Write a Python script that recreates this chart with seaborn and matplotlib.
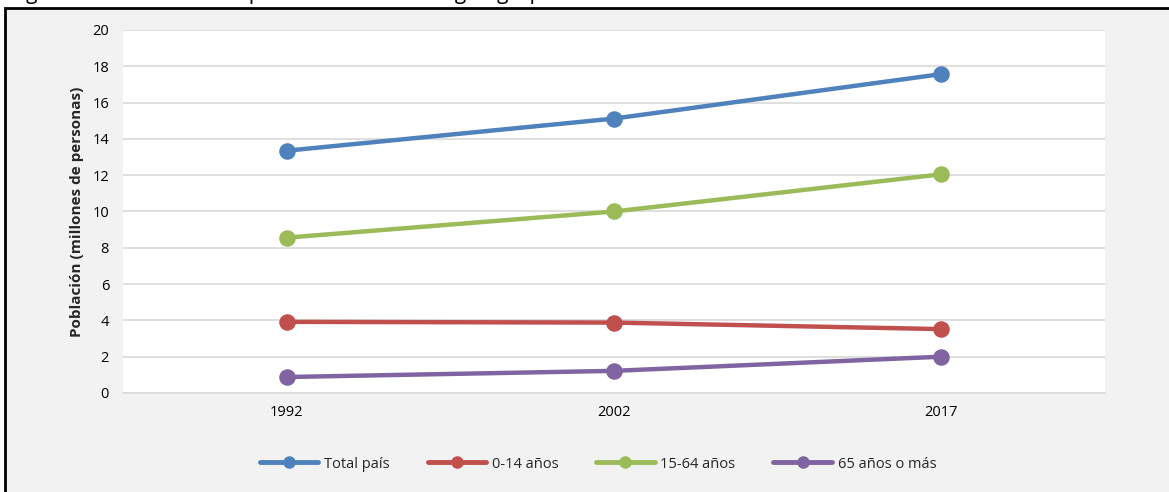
import pandas as pd
import seaborn as sns
import matplotlib.pyplot as plt
from matplotlib.patches import Rectangle
from matplotlib.lines import Line2D

# data (millions of people)
years = ['1992', '2002', '2017']
groups = ['Total país', '0-14 años', '15-64 años', '65 años o más']
total_pais = [13.35, 15.12, 17.57]
edad_0_14 = [3.92, 3.88, 3.52]
edad_15_64 = [8.56, 10.00, 12.05]
edad_65_mas = [0.88, 1.22, 2.00]
colors = ['#4f81bd', '#c0504d', '#9bbb59', '#8064a2']

df = pd.DataFrame({
    'year': years * 4,
    'grupo': [g for g in groups for _ in years],
    'value': total_pais + edad_0_14 + edad_15_64 + edad_65_mas,
})

sns.set_theme(style='white')
plt.rcParams['font.family'] = ['Open Sans', 'DejaVu Sans']

W, H = 1169, 492
fig = plt.figure(figsize=(W / 100, H / 100), dpi=100)
fig.patch.set_facecolor('white')

# chart frame (cropped at right and bottom)
frame = Rectangle((5 / W, -0.1), 1.2, (H - 8) / H + 0.1, transform=fig.transFigure,
                  facecolor='#f2f2f2', edgecolor='black', linewidth=2, zorder=-10)
fig.patches.append(frame)

# title partly cut off at the top, as in the source
fig.text(10 / W, 1 + 1.5 / H, 'Figura 1. Evolución de la población en Chile según grupo etario',
         fontsize=15, va='baseline', ha='left', color='black')

ax = fig.add_axes([123 / W, (H - 393) / H, (1105 - 123) / W, (393 - 30) / H])
ax.set_zorder(1)
ax.set_facecolor('white')

sns.pointplot(data=df, x='year', y='value', hue='grupo', hue_order=groups,
              palette=colors, markers='o', linewidth=3.2, markersize=9.5,
              ax=ax, legend=False)

ax.set_xlim(-0.5, 2.5)
ax.set_ylim(0, 20)
ax.set_yticks(range(0, 21, 2))
ax.grid(axis='y', color='#d9d9d9', linewidth=1.2)
ax.set_axisbelow(True)
for side in ['top', 'right', 'left']:
    ax.spines[side].set_visible(False)
ax.spines['bottom'].set_color('#d9d9d9')
ax.spines['bottom'].set_linewidth(1.2)
ax.tick_params(axis='both', length=0, labelsize=10.5, colors='black')
ax.tick_params(axis='y', pad=10)
ax.tick_params(axis='x', pad=9)
ax.set_xlabel('')
ax.set_ylabel('Población (millones de personas)', fontsize=11, fontweight='bold', labelpad=6)

handles = [Line2D([0], [0], color=c, linewidth=3.5, marker='o', markersize=8) for c in colors]
fig.legend(handles, groups, loc='center', bbox_to_anchor=(598 / W, (H - 464) / H), ncol=4,
           frameon=False, fontsize=10.5, handlelength=4, handletextpad=0.4, columnspacing=2.6)

fig.savefig('out.png', dpi=100, facecolor='white')
